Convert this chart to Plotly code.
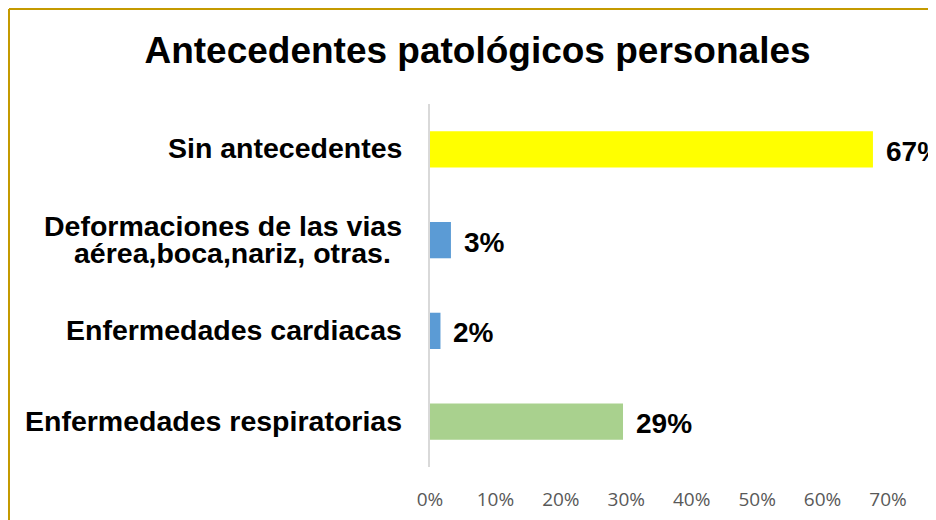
import plotly.graph_objects as go

# ---- data ----
categories = [
    "Sin antecedentes",
    "Deformaciones de las vias aérea,boca,nariz, otras.",
    "Enfermedades cardiacas",
    "Enfermedades respiratorias",
]
label_lines = [
    ["Sin antecedentes"],
    ["Deformaciones de las vias", "aérea,boca,nariz, otras."],
    ["Enfermedades cardiacas"],
    ["Enfermedades respiratorias"],
]
values = [0.677, 0.032, 0.016, 0.295]
value_labels = ["67%", "3%", "2%", "29%"]
bar_colors = ["#FFFF00", "#5B9BD5", "#5B9BD5", "#A9D18E"]
tick_vals = [0, 0.1, 0.2, 0.3, 0.4, 0.5, 0.6, 0.7]
tick_text = ["0%", "10%", "20%", "30%", "40%", "50%", "60%", "70%"]
title_text = "Antecedentes patológicos personales"

# ---- layout constants (page has an 8px body margin) ----
OFF = 8
W, H = 936 - OFF, 520 - OFF
ML = 430 - OFF
MT = 104 - OFF
PW = 458
PH = 363
MR = W - ML - PW
MB = H - MT - PH
BOLD = "Liberation Sans"
LBL = 28.5

fig = go.Figure()
fig.add_trace(go.Bar(
    y=list(range(len(categories))),
    x=values,
    orientation="h",
    marker=dict(color=bar_colors, line=dict(width=0)),
    width=0.4,
    hovertext=categories,
    showlegend=False,
))

def bold(s):
    return "<b>" + s + "</b>"

annotations = []
# category labels
for i, lines in enumerate(label_lines):
    if len(lines) == 1:
        annotations.append(dict(
            x=0, xref="paper", y=i, yref="y", text=bold(lines[0]),
            xanchor="right", yanchor="middle", xshift=-26, yshift=1,
            showarrow=False, font=dict(family=BOLD, size=LBL, color="#000000"),
        ))
    else:
        annotations.append(dict(
            x=0, xref="paper", y=i, yref="y", text=bold(lines[0]),
            xanchor="right", yanchor="middle", xshift=-26, yshift=14,
            showarrow=False, font=dict(family=BOLD, size=LBL, color="#000000"),
        ))
        annotations.append(dict(
            x=0, xref="paper", y=i, yref="y", text=bold(lines[1]),
            xanchor="center", yanchor="middle", xshift=-198, yshift=-13,
            showarrow=False, font=dict(family=BOLD, size=LBL, color="#000000"),
        ))
# value labels
for i, (v, t) in enumerate(zip(values, value_labels)):
    annotations.append(dict(
        x=v, xref="x", y=i, yref="y", text=bold(t),
        xanchor="left", yanchor="middle", xshift=11, yshift=-2,
        showarrow=False, font=dict(family=BOLD, size=28, color="#000000"),
    ))

# gold frame (top and left edges of the chart area)
fx = (9 - OFF - ML) / PW
fy = (MT + PH - (9 - OFF)) / PH
shapes = [
    dict(type="line", xref="paper", yref="paper", x0=fx, x1=3, y0=fy, y1=fy,
         line=dict(color="#C49A00", width=2)),
    dict(type="line", xref="paper", yref="paper", x0=fx, x1=fx, y0=fy, y1=-3,
         line=dict(color="#C49A00", width=2)),
]

fig.update_layout(
    width=W, height=H,
    margin=dict(l=ML, r=MR, t=MT, b=MB, pad=0, autoexpand=False),
    paper_bgcolor="#FFFFFF", plot_bgcolor="#FFFFFF",
    title=dict(
        text=bold(title_text),
        x=(477.5 - OFF) / W, xref="container", xanchor="center",
        y=1 - (50 - OFF) / H, yref="container", yanchor="middle",
        font=dict(family=BOLD, size=37, color="#000000"),
    ),
    xaxis=dict(
        range=[0, 0.7], tickvals=tick_vals, ticktext=tick_text,
        showgrid=False, zeroline=False, showline=False, ticks="",
        tickfont=dict(family="Open Sans", size=19, color="#595959"),
        ticklabelstandoff=19, fixedrange=True, automargin=False,
    ),
    yaxis=dict(
        range=[3.5, -0.5], showticklabels=False, showgrid=False,
        zeroline=False, showline=True, linecolor="#D9D9D9", linewidth=2,
        ticks="", fixedrange=True, automargin=False,
    ),
    annotations=annotations,
    shapes=shapes,
    bargap=0.6,
)

fig.write_html("out.html")
